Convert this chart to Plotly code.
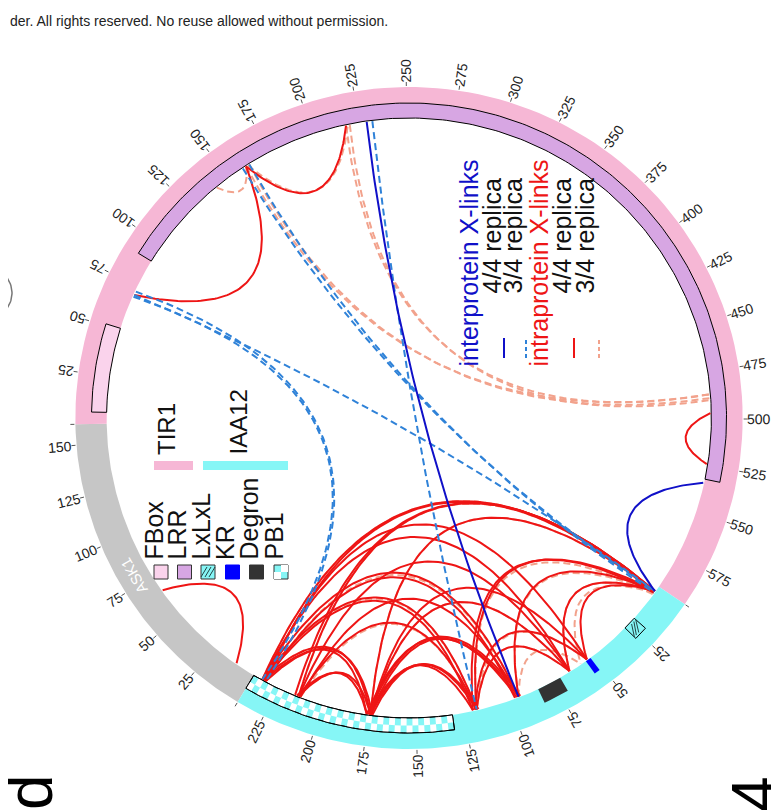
import numpy as np
import plotly.graph_objects as go

# ---------------- data ----------------
proteins = ["ASK1", "TIR1", "IAA12"]
protein_lengths = [160, 594, 239]
protein_colors = ["#c6c6c6", "#f6b7d5", "#86f6f6"]

domain_names = ["FBox", "LRR", "LxLxL", "KR", "Degron", "PB1"]
domain_protein = ["TIR1", "TIR1", "IAA12", "IAA12", "IAA12", "IAA12"]
domain_start = [6, 90, 21, 52, 71, 131]
domain_end = [51, 532, 28, 55, 84, 239]
domain_colors = ["#fad3ec", "#d7a6e3", "#86f6f6", "#0000ff", "#333333", "#86f6f6"]

tick_step = 25

# cross-links: (protein1, residue1, protein2, residue2)
inter_4of4 = [("TIR1", 229, "IAA12", 95), ("TIR1", 534, "IAA12", 3)]
inter_3of4 = [("TIR1", 232, "IAA12", 118), ("TIR1", 159, "IAA12", 3), ("TIR1", 163, "IAA12", 4),
              ("TIR1", 70, "IAA12", 3), ("TIR1", 69, "IAA12", 234), ("TIR1", 72, "IAA12", 232)]
intra_4of4 = [("ASK1", 11, "ASK1", 66), ("TIR1", 70, "TIR1", 161), ("TIR1", 161, "TIR1", 218),
              ("TIR1", 497, "TIR1", 524),
              ("IAA12", 3, "IAA12", 234), ("IAA12", 4, "IAA12", 232), ("IAA12", 3, "IAA12", 213),
              ("IAA12", 3, "IAA12", 215), ("IAA12", 3, "IAA12", 174), ("IAA12", 3, "IAA12", 118),
              ("IAA12", 4, "IAA12", 120), ("IAA12", 3, "IAA12", 95), ("IAA12", 3, "IAA12", 65),
              ("IAA12", 3, "IAA12", 54),
              ("IAA12", 234, "IAA12", 174), ("IAA12", 233, "IAA12", 176), ("IAA12", 232, "IAA12", 173),
              ("IAA12", 234, "IAA12", 118), ("IAA12", 233, "IAA12", 120), ("IAA12", 234, "IAA12", 95),
              ("IAA12", 232, "IAA12", 97), ("IAA12", 234, "IAA12", 65), ("IAA12", 233, "IAA12", 54),
              ("IAA12", 213, "IAA12", 174), ("IAA12", 214, "IAA12", 176), ("IAA12", 213, "IAA12", 118),
              ("IAA12", 212, "IAA12", 95), ("IAA12", 213, "IAA12", 65),
              ("IAA12", 174, "IAA12", 118), ("IAA12", 175, "IAA12", 120), ("IAA12", 173, "IAA12", 117),
              ("IAA12", 174, "IAA12", 95), ("IAA12", 176, "IAA12", 96), ("IAA12", 175, "IAA12", 94),
              ("IAA12", 174, "IAA12", 65), ("IAA12", 174, "IAA12", 54),
              ("IAA12", 118, "IAA12", 65), ("IAA12", 119, "IAA12", 54)]
intra_3of4 = [("TIR1", 142, "TIR1", 161), ("TIR1", 161, "TIR1", 487), ("TIR1", 163, "TIR1", 489),
              ("TIR1", 218, "TIR1", 487), ("TIR1", 220, "TIR1", 490), ("TIR1", 162, "TIR1", 219),
              ("IAA12", 3, "IAA12", 234), ("IAA12", 4, "IAA12", 213), ("IAA12", 3, "IAA12", 174),
              ("IAA12", 5, "IAA12", 118), ("IAA12", 4, "IAA12", 95), ("IAA12", 3, "IAA12", 65),
              ("IAA12", 4, "IAA12", 58), ("IAA12", 234, "IAA12", 174), ("IAA12", 233, "IAA12", 118),
              ("IAA12", 232, "IAA12", 95), ("IAA12", 213, "IAA12", 174), ("IAA12", 212, "IAA12", 118),
              ("IAA12", 174, "IAA12", 118), ("IAA12", 175, "IAA12", 95), ("IAA12", 174, "IAA12", 65),
              ("IAA12", 118, "IAA12", 65), ("IAA12", 118, "IAA12", 54), ("IAA12", 95, "IAA12", 58)]

legend_proteins = ["TIR1", "IAA12"]
legend_domain_labels = ["FBox", "LRR", "LxLxL", "KR", "Degron", "PB1"]
legend_link_labels = ["interprotein X-links", "4/4 replica", "3/4 replica",
                      "intraprotein X-links", "4/4 replica", "3/4 replica"]

# ---------------- geometry ----------------
W, H = 779, 810
CX, CY = 401, 410
XS = 1.008
R_OUT, R_IN, R_BOX = 331, 300, 315
R_LINK = 299
DPA = 360.0 / sum(protein_lengths)
START = 239.1
OFF = {}
acc = 0
for p, L in zip(proteins, protein_lengths):
    OFF[p] = acc
    acc += L
PLEN = dict(zip(proteins, protein_lengths))


def theta(p, pos):
    return START - (OFF[p] + pos) * DPA


def pt(th, r):
    rad = np.radians(th)
    return CX + XS * r * np.cos(rad), CY - r * np.sin(rad)


def sector(th1, th2, r1, r2, n=80):
    ths = np.linspace(th1, th2, n)
    xo, yo = pt(ths, r2)
    xi, yi = pt(ths[::-1], r1)
    xs = np.concatenate([xo, xi, xo[:1]])
    ys = np.concatenate([yo, yi, yo[:1]])
    return xs, ys


fig = go.Figure()


def poly(xs, ys, fill, line_color=None, lw=0):
    fig.add_trace(go.Scatter(x=xs, y=ys, mode="lines", fill="toself", fillcolor=fill,
                             line=dict(color=line_color or fill, width=lw),
                             hoverinfo="skip", showlegend=False))


# bands
for p, c in zip(proteins, protein_colors):
    xs, ys = sector(theta(p, 0), theta(p, PLEN[p]), R_IN, R_OUT, 120)
    poly(xs, ys, c)

# domain boxes
for name, p, s, e, c in zip(domain_names, domain_protein, domain_start, domain_end, domain_colors):
    xs, ys = sector(theta(p, s), theta(p, e), R_IN, R_BOX, max(4, int((e - s) / 2)))
    outline = "#000000" if name in ("FBox", "LRR", "LxLxL", "PB1") else c
    poly(xs, ys, c, outline, 1 if outline == "#000000" else 0)
    if name == "PB1":
        cx, cy = [], []
        cols = np.arange(s, e, 3)
        rows = [(R_IN, (R_IN + R_BOX) / 2), ((R_IN + R_BOX) / 2, R_BOX)]
        for j, (ra, rb) in enumerate(rows):
            for i, a in enumerate(cols):
                if (i + j) % 2 == 0:
                    b = min(a + 3, e)
                    x1, y1 = sector(theta(p, a), theta(p, b), ra, rb, 3)
                    cx += list(x1) + [None]
                    cy += list(y1) + [None]
        fig.add_trace(go.Scatter(x=cx, y=cy, mode="lines", fill="toself", fillcolor="white",
                                 line=dict(width=0, color="white"), hoverinfo="skip", showlegend=False))
        xs, ys = sector(theta(p, s), theta(p, e), R_IN, R_BOX, 60)
        fig.add_trace(go.Scatter(x=xs, y=ys, mode="lines", line=dict(color="black", width=1),
                                 hoverinfo="skip", showlegend=False))
    if name == "LxLxL":
        hx, hy = [], []
        for k in range(3):
            f = (k + 1) / 4.0
            a1 = s + (e - s) * max(0, f - 0.3)
            a2 = s + (e - s) * min(1, f + 0.3)
            x1, y1 = pt(theta(p, a1), R_IN + 2)
            x2, y2 = pt(theta(p, a2), R_BOX - 2)
            hx += [x1, x2, None]
            hy += [y1, y2, None]
        fig.add_trace(go.Scatter(x=hx, y=hy, mode="lines", line=dict(color="#224444", width=1),
                                 hoverinfo="skip", showlegend=False))

# ticks
tx, ty = [], []
tick_labels = []
for p in proteins:
    for v in range(0, PLEN[p] + 1, tick_step):
        th = theta(p, v)
        x1, y1 = pt(th, R_OUT + 1)
        x2, y2 = pt(th, R_OUT + 5)
        tx += [x1, x2, None]
        ty += [y1, y2, None]
        if v > 0:
            tick_labels.append((p, v, th))
fig.add_trace(go.Scatter(x=tx, y=ty, mode="lines", line=dict(color="#555555", width=1),
                         hoverinfo="skip", showlegend=False))

FS_TICK = 14
for p, v, th in tick_labels:
    s = str(v)
    w = len(s) * 0.556 * FS_TICK
    rc = R_OUT + 5 + w / 2
    x, y = pt(th, rc)
    ang = th if p == "TIR1" else th + 180
    ang = (ang + 180) % 360 - 180
    fig.add_annotation(x=x, y=y, text=s, showarrow=False, textangle=-ang,
                       xanchor="center", yanchor="middle",
                       font=dict(size=FS_TICK, color="#222222", family="Arial, Liberation Sans"))

# ASK1 name inside its band
th_a = theta("ASK1", 80)
xa, ya = pt(th_a, (R_IN + R_OUT) / 2)
fig.add_annotation(x=xa, y=ya, text="ASK1", showarrow=False, textangle=-(th_a - 90),
                   font=dict(size=15, color="white", family="Arial, Liberation Sans"))


# links
def chord(l, k=0.9, cap=1.2, n=80):
    p1, a1, p2, a2 = l
    P1 = np.array(pt(theta(p1, a1), R_LINK))
    P2 = np.array(pt(theta(p2, a2), R_LINK))
    M = (P1 + P2) / 2
    d = np.linalg.norm(P1 - P2)
    v = np.array([CX, CY]) - M
    L = np.linalg.norm(v)
    C = M + v / L * min(k * d, cap * L) if L > 1e-6 else M
    t = np.linspace(0, 1, n)[:, None]
    pts = (1 - t) ** 2 * P1 + 2 * (1 - t) * t * C + t ** 2 * P2
    return list(pts[:, 0]), list(pts[:, 1])


def add_links(links, color, dash, width):
    xs, ys = [], []
    for l in links:
        x, y = chord(l)
        xs += x + [None]
        ys += y + [None]
    fig.add_trace(go.Scatter(x=xs, y=ys, mode="lines", line=dict(color=color, dash=dash, width=width),
                             hoverinfo="skip", showlegend=False))


C_INTER4, C_INTER3, C_INTRA4, C_INTRA3 = "#1010c8", "#2f82d8", "#ee1515", "#f2a28c"
add_links(intra_3of4, C_INTRA3, "7px,4px", 2)
add_links(intra_4of4, C_INTRA4, "solid", 2)
add_links(inter_3of4, C_INTER3, "7px,4px", 2)
add_links(inter_4of4, C_INTER4, "solid", 2)

FONT = "Arial, Liberation Sans"
DXT = -8  # rotated text box offset
# protein legend
fig.add_shape(type="rect", x0=146, x1=185, y0=453, y1=462, fillcolor=protein_colors[1], line=dict(width=0))
fig.add_shape(type="rect", x0=195, x1=280, y0=453, y1=462, fillcolor=protein_colors[2], line=dict(width=0))
for lab, xc in zip(legend_proteins, [166, 238]):
    fig.add_annotation(x=xc + DXT, y=449, text=lab, showarrow=False, textangle=-90, xanchor="center",
                       yanchor="bottom", font=dict(size=24, color="#111111", family=FONT))

# domain legend
sq_x = [153, 176.5, 200, 224.5, 248.5, 273]
sq_fill = ["#fad3ec", "#d7a6e3", "#86f6f6", "#0000ff", "#333333", "#86f6f6"]
for lab, xc, fc in zip(legend_domain_labels, sq_x, sq_fill):
    lc = "#333333" if lab not in ("KR",) else "#0000ff"
    fig.add_shape(type="rect", x0=xc - 7, x1=xc + 7, y0=557, y1=571, fillcolor=fc, line=dict(color=lc, width=1))
    fig.add_annotation(x=xc + DXT, y=554, text=lab, showarrow=False, textangle=-90, xanchor="center",
                       yanchor="bottom", font=dict(size=25, color="#111111", family=FONT))
fig.add_shape(type="rect", x0=273, x1=280, y0=557, y1=564, fillcolor="white", line=dict(width=0))
fig.add_shape(type="rect", x0=266, x1=273, y0=564, y1=571, fillcolor="white", line=dict(width=0))
for dx in (-4, 0, 4):
    fig.add_shape(type="line", x0=200 + dx - 3, x1=200 + dx + 3, y0=569, y1=559,
                  line=dict(color="#224444", width=1))

# link legend
ll_x = [468, 491, 512, 538, 561, 584]
ll_colors = [C_INTER4, "#111111", "#111111", "#ee1515", "#111111", "#111111"]
for lab, xc, c in zip(legend_link_labels, ll_x, ll_colors):
    ystart = 361 if "X-links" in lab else 288
    fig.add_annotation(x=xc + DXT, y=ystart, text=lab, showarrow=False, textangle=-90, xanchor="center",
                       yanchor="bottom", font=dict(size=25, color=c, family=FONT))
sym_x = [496, 518, 566, 591]
sym_style = [(C_INTER4, "solid"), (C_INTER3, "4px,3px"), (C_INTRA4, "solid"), (C_INTRA3, "4px,3px")]
for xc, (c, dsh) in zip(sym_x, sym_style):
    fig.add_trace(go.Scatter(x=[xc, xc], y=[350, 330], mode="lines", line=dict(color=c, dash=dsh, width=2),
                             hoverinfo="skip", showlegend=False))

# small cut-off mark at the left edge
arc_t = np.radians(np.linspace(-35, 35, 20))
fig.add_trace(go.Scatter(x=list(-22 + 26 * np.cos(arc_t)), y=list(285 - 26 * np.sin(arc_t)), mode="lines",
                         line=dict(color="#777777", width=1.5), hoverinfo="skip", showlegend=False))

# header / panel letters
fig.add_annotation(x=0, y=13, text="der. All rights reserved. No reuse allowed without permission.",
                   showarrow=False, xanchor="left", yanchor="middle",
                   font=dict(size=14, color="#222222", family="Arial, Liberation Sans"))
fig.add_annotation(x=22, y=784, text="d", showarrow=False, textangle=-90, xanchor="center", yanchor="middle",
                   font=dict(size=64, color="black", family=FONT))
fig.add_annotation(x=747, y=786, text="4", showarrow=False, textangle=-90, xanchor="center", yanchor="middle",
                   font=dict(size=64, color="black", family=FONT))

fig.update_layout(width=W, height=H, margin=dict(l=0, r=0, t=0, b=0),
                  paper_bgcolor="white", plot_bgcolor="white",
                  xaxis=dict(range=[0, W], visible=False, fixedrange=True),
                  yaxis=dict(range=[H, 0], visible=False, fixedrange=True),
                  showlegend=False)
fig.write_html("out.html")
